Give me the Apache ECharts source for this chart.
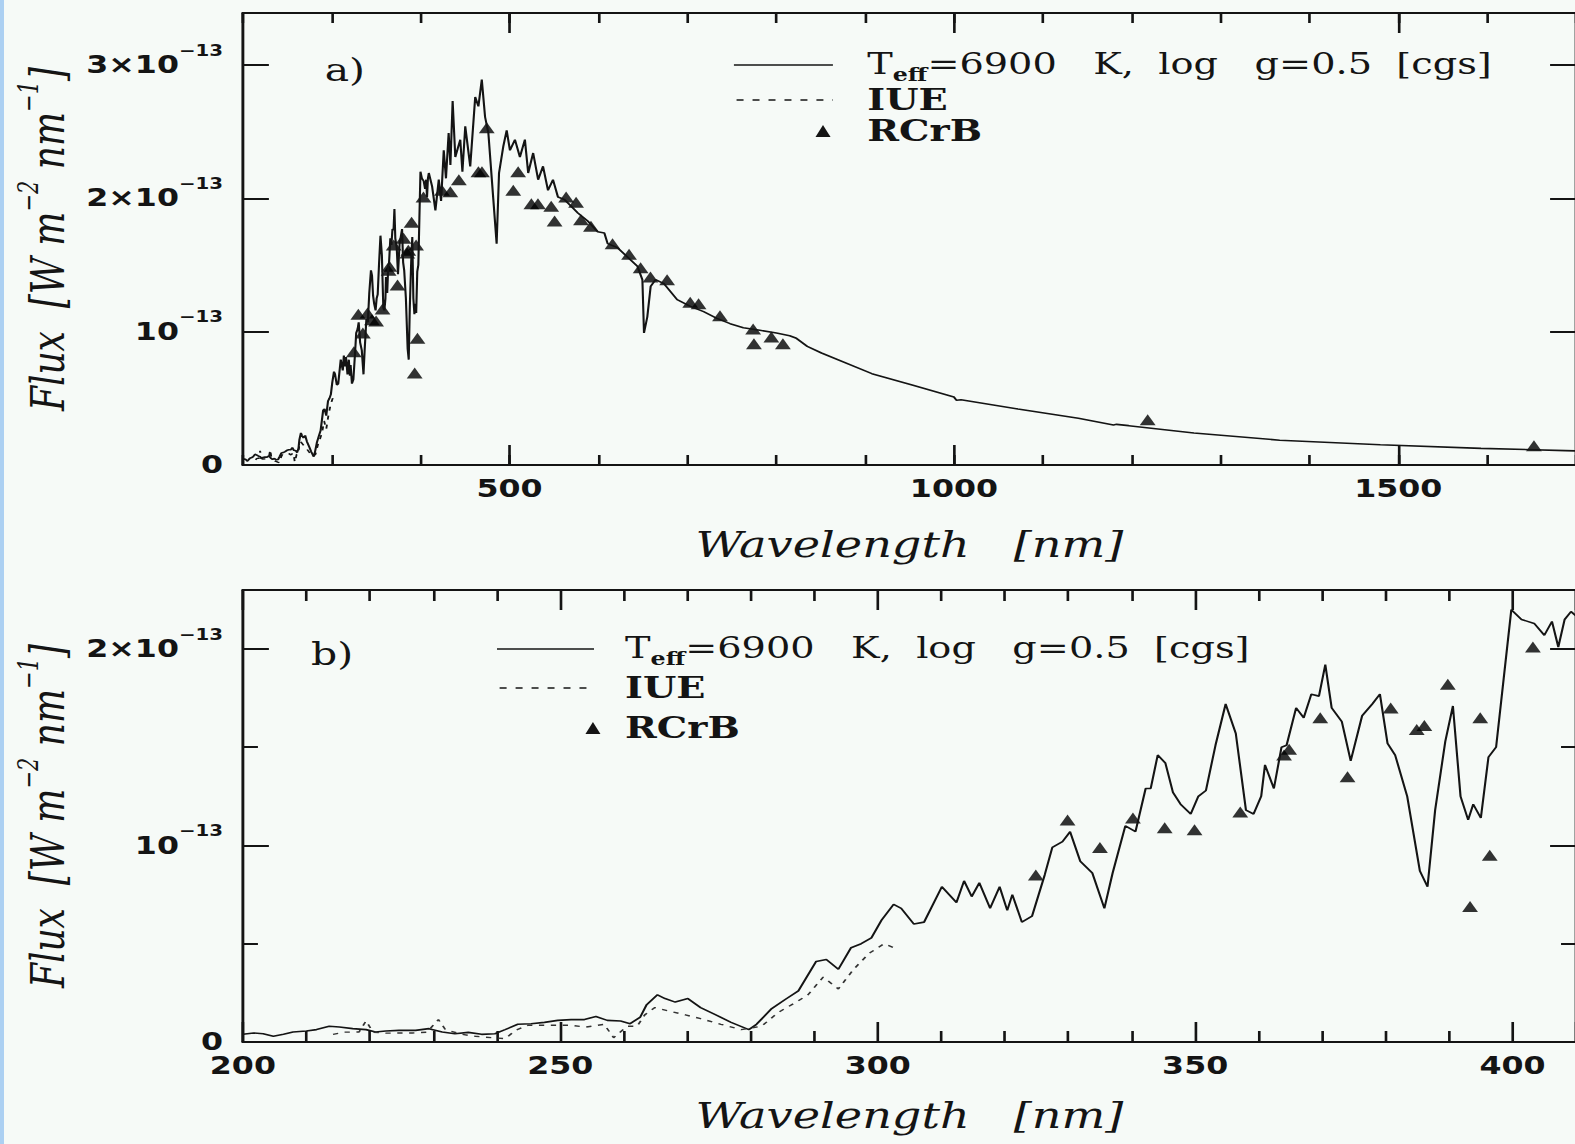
<!DOCTYPE html>
<html lang="en">
<head>
<meta charset="UTF-8">
<title>R CrB flux</title>
<script src="https://cdn.jsdelivr.net/npm/echarts@6.0.0/dist/echarts.min.js"></script>
<style>
  html, body { margin: 0; padding: 0; background: #f6faf7; overflow: hidden; }
  /* the scanned figure is stretched sideways: draw narrow, widen with css */
  #content { width: 1194px; height: 1144px; transform: scaleX(1.32); transform-origin: 0 0; }
  #edge { position: fixed; left: 0; top: 0; width: 4px; height: 100%; background: #acd0f2; }
</style>
</head>
<body>
<div id="content"></div>
<div id="edge"></div>
<script>
// wavelength in nm, flux in units of 1e-13 W m^-2 nm^-1
var modelWave = [200, 201.7, 203.2, 204.8, 206.4, 207.9, 210, 211.6, 213.6, 215.2, 217.3, 219.4, 220.9, 222.5, 224.6, 227.2,
  229.3, 231.4, 233.4, 235.5, 237.6, 239.7, 241.3, 243.3, 245.4, 247.5, 249.6, 251.7, 253.8, 255.6, 257.4, 259.5,
  261.0, 262.6, 263.6, 265.3, 266.5, 268.1, 270.1, 272.1, 274.5, 276.9, 279.7, 280.9, 283.3, 285.6, 287.5, 290.3,
  291.9, 293.8, 295.8, 297.4, 299.0, 300.6, 302.5, 303.7, 305.7, 307.3, 310.1, 312.4, 313.6, 314.8, 316.0, 317.7,
  319.2, 320.4, 321.2, 322.7, 324.3, 326.3, 327.5, 329.1, 330.3, 331.9, 333.8, 335.7, 337.0, 339.0, 340.6, 342.2,
  343.0, 344.1, 345.3, 346.5, 347.7, 349.3, 350.5, 351.7, 353.2, 354.8, 356.4, 358.0, 359.2, 360.4, 361.0, 362.4,
  363.6, 364.4, 365.9, 367.1, 368.3, 369.5, 370.5, 371.5, 373.1, 374.5, 376.3, 377.9, 379.1, 380.3, 381.5, 383.4,
  385.4, 386.6, 387.8, 389.4, 390.6, 391.8, 393.0, 393.8, 395.0, 396.2, 397.4, 398.6, 399.8, 401.4, 403.4, 405.0,
  406.2, 407.2, 408.2, 409.2, 412.9, 416.6, 420.4, 423.0, 426.0, 428.5, 431.5, 433.5, 436.0, 439.0, 444.6, 447.0,
  450.2, 455.8, 461.4, 465.0, 468.8, 472.5, 476.2, 481.8, 485.5, 488.2, 493.0, 496.8, 500.5, 506.1, 511.7, 517.3,
  521.0, 526.6, 532.2, 537.7, 543.3, 548.9, 554.5, 562.0, 569.4, 576.9, 588.0, 599.2, 606.7, 610.4, 621.5, 632.7,
  643.9, 649.5, 651.3, 655.0, 658.8, 664.3, 673.7, 688.6, 703.5, 718.4, 733.3, 748.2, 763.1, 781.7, 800.3, 815.2,
  822.8, 835.0, 851.0, 907.7, 953.0, 1000, 1003, 1008, 1072, 1140, 1179.5, 1183, 1196.7, 1270, 1366.5, 1479.8,
  1593, 1688, 1700];
var modelFlux = [0.039, 0.046, 0.042, 0.029, 0.039, 0.051, 0.056, 0.063, 0.080, 0.076, 0.068, 0.063, 0.051, 0.056, 0.059, 0.059,
  0.068, 0.051, 0.042, 0.049, 0.039, 0.042, 0.063, 0.090, 0.093, 0.100, 0.110, 0.114, 0.114, 0.130, 0.110, 0.107,
  0.093, 0.127, 0.190, 0.240, 0.221, 0.203, 0.221, 0.175, 0.138, 0.100, 0.063, 0.090, 0.170, 0.220, 0.260, 0.410,
  0.420, 0.370, 0.480, 0.500, 0.530, 0.620, 0.700, 0.680, 0.600, 0.610, 0.790, 0.710, 0.820, 0.740, 0.810, 0.680,
  0.790, 0.670, 0.750, 0.610, 0.640, 0.850, 0.990, 1.020, 1.070, 0.920, 0.860, 0.680, 0.860, 1.100, 1.070, 1.290,
  1.290, 1.460, 1.420, 1.270, 1.210, 1.160, 1.250, 1.280, 1.510, 1.720, 1.570, 1.180, 1.160, 1.250, 1.410, 1.290,
  1.500, 1.510, 1.700, 1.650, 1.770, 1.760, 1.920, 1.700, 1.630, 1.430, 1.660, 1.720, 1.770, 1.520, 1.460, 1.250,
  0.870, 0.790, 1.180, 1.530, 1.710, 1.250, 1.130, 1.210, 1.140, 1.450, 1.500, 1.850, 2.200, 2.150, 2.130, 2.070,
  2.140, 2.010, 2.150, 2.190, 2.090, 1.910, 2.140, 1.980, 2.360, 2.150, 2.490, 2.250, 2.730, 2.310, 2.440, 2.200,
  2.540, 2.240, 2.760, 2.690, 2.890, 2.610, 2.490, 1.990, 1.660, 2.190, 2.390, 2.510, 2.360, 2.440, 2.310, 2.440,
  2.190, 2.340, 2.140, 2.240, 2.060, 2.140, 2.010, 1.990, 1.940, 1.890, 1.830, 1.750, 1.740, 1.660, 1.630, 1.560,
  1.490, 1.390, 0.990, 1.110, 1.340, 1.390, 1.360, 1.240, 1.190, 1.150, 1.100, 1.060, 1.030, 1.010, 0.990, 0.970,
  0.950, 0.890, 0.840, 0.685, 0.600, 0.510, 0.485, 0.490, 0.420, 0.350, 0.300, 0.305, 0.295, 0.240, 0.186, 0.152,
  0.125, 0.108, 0.106];

var iueWave = [214.2, 216.0, 218.3, 219.4, 220.5, 222.5, 226.7, 229.0, 230.8, 231.9, 234.5, 236.6, 239.2, 241.3, 243.0, 244.9,
  247.5, 251.7, 254.0, 256.9, 258.4, 260.5, 262.1, 263.3, 264.9, 267.3, 269.7, 272.1, 275.3, 278.5, 281.7, 284.3,
  287.0, 289.0, 291.4, 293.8, 296.2, 298.6, 301.0, 302.5];
var iueFlux = [0.039, 0.050, 0.051, 0.107, 0.050, 0.045, 0.046, 0.050, 0.114, 0.063, 0.039, 0.029, 0.022, 0.017, 0.060, 0.085,
  0.085, 0.085, 0.076, 0.090, 0.022, 0.080, 0.080, 0.138, 0.175, 0.156, 0.138, 0.119, 0.090, 0.063, 0.080, 0.150,
  0.200, 0.240, 0.330, 0.270, 0.370, 0.450, 0.500, 0.480];

var rcrbWave = [324.9, 329.9, 335.0, 340.2, 345.2, 349.9, 357.1, 364.0, 364.8, 369.7, 374.0, 380.8, 384.9, 386.1, 389.8, 393.3,
  394.9, 396.4, 403.2, 424.0, 433.4, 443.0, 465.0, 469.0, 474.4, 504.2, 509.7, 524.6, 532.0, 546.9, 550.7, 563.7,
  574.9, 580.4, 591.6, 615.9, 634.5, 647.5, 658.6, 677.3, 703.3, 712.7, 736.8, 774.1, 775.0, 794.6, 807.6, 1218, 1652.6];
var rcrbFlux = [0.85, 1.13, 0.99, 1.14, 1.09, 1.08, 1.17, 1.46, 1.49, 1.65, 1.35, 1.70, 1.59, 1.61, 1.82, 0.69,
  1.65, 0.95, 2.01, 2.06, 2.05, 2.14, 2.20, 2.20, 2.53, 2.06, 2.20, 1.96, 1.96, 1.94, 1.83, 2.01,
  1.97, 1.84, 1.79, 1.66, 1.58, 1.48, 1.41, 1.39, 1.22, 1.21, 1.12, 1.02, 0.91, 0.96, 0.91, 0.34, 0.144];

// tick labels
var topMajorX = [500, 1000, 1500];
var topTickY = [0, 1, 2, 3];
var bottomTickY = [0, 1, 2];
var yTickMantissa = ['0', '10', '2×10', '3×10'];
var yTickExponent = '−13';
var legendLabels = ['=6900   K,  log   g=0.5  [cgs]', 'IUE', 'RCrB'];

function pairs(xs, ys) {
    return xs.map(function (x, i) { return [x, ys[i]]; });
}
var modelData = pairs(modelWave, modelFlux);
var iueData = pairs(iueWave, iueFlux);
var rcrbData = pairs(rcrbWave, rcrbFlux);

var myChart = echarts.init(document.getElementById('content'), null, {renderer: 'svg'});

var ink = '#141414';
var frameLine = {show: true, onZero: false, lineStyle: {color: ink, width: 2.2}};
var noLine = {show: false, onZero: false};
var tickStyle = {color: ink, width: 2};

function yLabel(v) {
    var i = Math.round(v);
    if (Math.abs(v - i) > 1e-6 || i < 0 || i >= yTickMantissa.length) return '';
    if (i === 0) return '{m|0}';
    return '{m|' + yTickMantissa[i] + '}{e|' + yTickExponent + '}';
}
function yLabels(values) {
    return {
        show: true, margin: 15, customValues: values, formatter: yLabel,
        color: ink, fontFamily: 'DejaVu Sans', fontWeight: 'bold', fontSize: 24,
        rich: {
            m: {fontFamily: 'DejaVu Sans', fontWeight: 'bold', fontSize: 24, lineHeight: 44, color: ink},
            e: {fontFamily: 'DejaVu Sans', fontWeight: 'bold', fontSize: 15, lineHeight: 18, verticalAlign: 'top', color: ink}
        }
    };
}
var xLabelStyle = {
    show: true, margin: 12, color: ink, fontFamily: 'DejaVu Sans', fontWeight: 'bold', fontSize: 24,
    formatter: function (v) { return String(v); }
};
var xNameStyle = {fontFamily: 'DejaVu Serif', fontStyle: 'italic', fontSize: 35, color: ink};
var yNameStyle = {
    fontFamily: 'DejaVu Serif', fontStyle: 'italic', fontSize: 36, color: ink,
    rich: {
        t: {fontFamily: 'DejaVu Serif', fontStyle: 'italic', fontSize: 36, lineHeight: 50, color: ink},
        s: {fontFamily: 'DejaVu Serif', fontStyle: 'italic', fontSize: 21, lineHeight: 24, verticalAlign: 'top', color: ink}
    }
};
var yName = '{t|Flux  [W m}{s|−2}{t| nm}{s|−1}{t|]}';
var xName = 'Wavelength   [nm]';

function plainX(grid, pos, min, max, interval, len) {
    return {
        type: 'value', gridIndex: grid, position: pos, min: min, max: max, interval: interval,
        axisLine: frameLine, splitLine: {show: false}, axisLabel: {show: false},
        axisTick: {show: true, inside: true, length: len, lineStyle: tickStyle}
    };
}

// legend keys and panel tags, drawn as annotations
function legendGroup(lx1, lx2, tx, y1, y2, y3, triX) {
    var textStyle = {fontFamily: 'DejaVu Serif', fontSize: 29, fill: ink, align: 'left', verticalAlign: 'middle',
        textAlign: 'left', textVerticalAlign: 'middle'};
    return [
        {type: 'line', shape: {x1: lx1, y1: y1 + 1, x2: lx2, y2: y1 + 1}, style: {stroke: ink, lineWidth: 1.7}},
        {type: 'line', shape: {x1: lx1 + 2, y1: y2, x2: lx2, y2: y2}, style: {stroke: ink, lineWidth: 1.7, lineDash: [5.3, 6.8]}},
        {type: 'polygon', shape: {points: [[triX - 5.7, y3 + 6], [triX, y3 - 6], [triX + 5.7, y3 + 6]]}, style: {fill: ink}},
        {type: 'text', x: tx, y: y1, style: Object.assign({}, textStyle, {
            text: '{t|T}{s|eff}{t|' + legendLabels[0] + '}',
            rich: {
                t: {fontFamily: 'DejaVu Serif', fontSize: 29, lineHeight: 40, fill: ink},
                s: {fontFamily: 'DejaVu Serif', fontWeight: 'bold', fontSize: 18, lineHeight: 16, verticalAlign: 'bottom', fill: ink}
            }
        })},
        {type: 'text', x: tx, y: y2, style: Object.assign({}, textStyle, {text: legendLabels[1], fontWeight: 'bold'})},
        {type: 'text', x: tx, y: y3, style: Object.assign({}, textStyle, {text: legendLabels[2], fontWeight: 'bold'})}
    ];
}
var tagStyle = {fontFamily: 'DejaVu Serif', fontSize: 31, fill: ink, align: 'left', verticalAlign: 'middle',
    textAlign: 'left', textVerticalAlign: 'middle'};

var option = {
    backgroundColor: '#f6faf7',
    animation: false,
    grid: [
        {left: 184, top: 13, width: 1018, height: 452},
        {left: 184, top: 590, width: 1018, height: 452}
    ],
    xAxis: [
        plainX(0, 'bottom', 200, 1700, 100, 10),
        {
            type: 'value', gridIndex: 0, position: 'bottom', min: 200, max: 1700,
            axisLine: noLine, splitLine: {show: false},
            axisTick: {show: true, inside: true, length: 20, customValues: topMajorX, lineStyle: tickStyle},
            axisLabel: Object.assign({customValues: topMajorX}, xLabelStyle),
            name: xName, nameLocation: 'middle', nameGap: 63, nameTextStyle: xNameStyle, nameMoveOverlap: false
        },
        plainX(0, 'top', 200, 1700, 100, 10),
        {
            type: 'value', gridIndex: 0, position: 'top', min: 200, max: 1700,
            axisLine: noLine, splitLine: {show: false}, axisLabel: {show: false},
            axisTick: {show: true, inside: true, length: 20, customValues: topMajorX, lineStyle: tickStyle}
        },
        {
            type: 'value', gridIndex: 1, position: 'bottom', min: 200, max: 410, interval: 50,
            axisLine: frameLine, splitLine: {show: false},
            axisTick: {show: true, inside: true, length: 20, lineStyle: tickStyle},
            minorTick: {show: true, splitNumber: 5, length: 11, lineStyle: tickStyle},
            axisLabel: Object.assign({showMaxLabel: false}, xLabelStyle),
            name: xName, nameLocation: 'middle', nameGap: 57, nameTextStyle: xNameStyle, nameMoveOverlap: false
        },
        {
            type: 'value', gridIndex: 1, position: 'top', min: 200, max: 410, interval: 50,
            axisLine: frameLine, splitLine: {show: false}, axisLabel: {show: false},
            axisTick: {show: true, inside: true, length: 20, lineStyle: tickStyle},
            minorTick: {show: true, splitNumber: 5, length: 11, lineStyle: tickStyle}
        }
    ],
    yAxis: [
        {
            type: 'value', gridIndex: 0, position: 'left', min: 0, max: 3.39, interval: 1,
            axisLine: frameLine, splitLine: {show: false},
            axisTick: {show: true, inside: true, length: 19.7, lineStyle: tickStyle},
            axisLabel: yLabels(topTickY),
            name: yName, nameLocation: 'middle', nameRotate: 90, nameGap: 123, nameTextStyle: yNameStyle, nameMoveOverlap: false
        },
        {
            type: 'value', gridIndex: 0, position: 'right', min: 0, max: 3.39, interval: 1,
            axisLine: frameLine, splitLine: {show: false}, axisLabel: {show: false},
            axisTick: {show: true, inside: true, length: 19.7, lineStyle: tickStyle}
        },
        {
            type: 'value', gridIndex: 1, position: 'left', min: 0, max: 2.3, interval: 1,
            axisLine: frameLine, splitLine: {show: false},
            axisTick: {show: true, inside: true, length: 19.7, lineStyle: tickStyle},
            minorTick: {show: true, splitNumber: 2, length: 11.4, lineStyle: tickStyle},
            axisLabel: yLabels(bottomTickY),
            name: yName, nameLocation: 'middle', nameRotate: 90, nameGap: 123, nameTextStyle: yNameStyle, nameMoveOverlap: false
        },
        {
            type: 'value', gridIndex: 1, position: 'right', min: 0, max: 2.3, interval: 1,
            axisLine: frameLine, splitLine: {show: false}, axisLabel: {show: false},
            axisTick: {show: true, inside: true, length: 19.7, lineStyle: tickStyle},
            minorTick: {show: true, splitNumber: 2, length: 11.4, lineStyle: tickStyle}
        }
    ],
    series: [
        {type: 'line', name: 'model', xAxisIndex: 0, yAxisIndex: 0, data: modelData, symbol: 'none',
            lineStyle: {color: ink, width: 1.6}},
        {type: 'line', name: 'IUE', xAxisIndex: 0, yAxisIndex: 0, data: iueData, symbol: 'none',
            lineStyle: {color: ink, width: 1.4, type: [4, 5]}},
        {type: 'scatter', name: 'RCrB', xAxisIndex: 0, yAxisIndex: 0, data: rcrbData, symbol: 'triangle',
            symbolSize: [12, 11], itemStyle: {color: '#000'}},
        {type: 'line', name: 'model', xAxisIndex: 4, yAxisIndex: 2, data: modelData, symbol: 'none',
            lineStyle: {color: ink, width: 1.6}},
        {type: 'line', name: 'IUE', xAxisIndex: 4, yAxisIndex: 2, data: iueData, symbol: 'none',
            lineStyle: {color: '#333', width: 1.4, type: [4, 5]}},
        {type: 'scatter', name: 'RCrB', xAxisIndex: 4, yAxisIndex: 2, data: rcrbData, symbol: 'triangle',
            symbolSize: [12, 11], itemStyle: {color: '#000'}}
    ],
    graphic: [].concat(
        legendGroup(556, 631, 657, 64, 100, 131, 623.5),
        legendGroup(376.5, 450, 473.5, 648, 688, 728, 449.2),
        [
            {type: 'text', x: 246, y: 70, style: Object.assign({text: 'a)'}, tagStyle)},
            {type: 'text', x: 235.6, y: 654, style: Object.assign({text: 'b)'}, tagStyle)}
        ]
    )
};
myChart.setOption(option);
</script>
</body>
</html>
